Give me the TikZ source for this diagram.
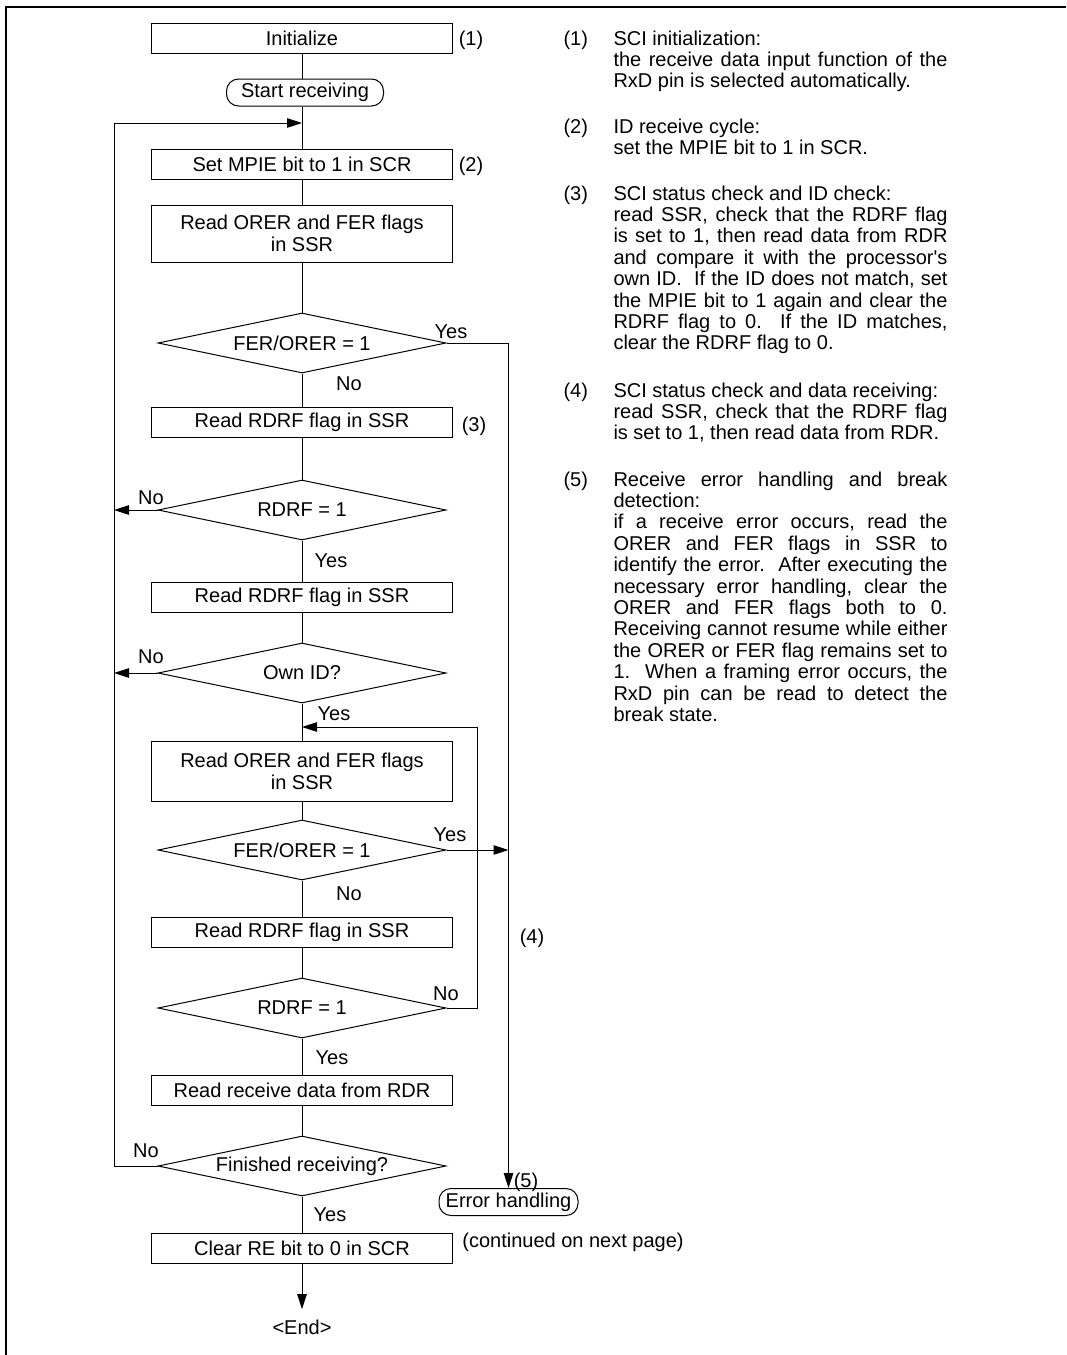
\documentclass[tikz,border=0pt]{standalone}
\usepackage{fontspec}
\setmainfont{Liberation Sans}
\usetikzlibrary{positioning,calc,arrows.meta,shapes.geometric}
\tolerance=10000

\begin{document}
\begin{tikzpicture}[x=1pt, y=-1pt, >={Triangle[length=15pt,width=9.5pt]}, line width=1pt,
    font=\fontsize{20}{22}\selectfont]
    \tikzstyle{proc box} = [draw, rectangle, minimum width=301pt, minimum height=30pt, inner sep=0pt, align=center]
    \tikzstyle{dec} = [draw, diamond, aspect=4.8, minimum width=288pt, minimum height=60pt, inner sep=0pt]
    \tikzstyle{term} = [draw, rounded corners=12pt, minimum height=27pt, inner sep=0pt]
    \tikzstyle{lbl} = [inner sep=0pt, text height=14pt, text depth=0pt]
    \tikzstyle{note} = [anchor=base west, inner sep=0pt, text width=334pt, align=justify,
        font=\fontsize{20}{21.4}\selectfont\frenchspacing]
    \useasboundingbox (0,0) rectangle (1066,1355);
    % frame
    \draw[line width=2.2pt] (5.7,1355) -- (5.7,6.7) -- (1066,6.7);

    % main column
    \node[proc box] (init) at (302,38.5) {Initialize};
    \node[lbl] (num1) at (471,38) {(1)};
    \node[term, minimum width=157pt] (start) at (305,92.5) {Start receiving};
    \coordinate (loop) at (302,123);
    \node[proc box] (setm) at (302,164.5) {Set MPIE bit to 1 in SCR};
    \node[lbl] (num2) at (471,164) {(2)};
    \node[proc box, minimum height=57pt] (rdoe1) at (302,233.5) {Read ORER and FER flags\\in SSR};
    \node[dec] (fe1) at (302,343) {FER/ORER = 1};
    \node[proc box] (rdrf1) at (302,422.5) {Read RDRF flag in SSR};
    \node[lbl] (num3) at (474,424) {(3)};
    \node[dec] (rf1) at (302,510) {RDRF = 1};
    \node[proc box] (rdrf2) at (302,597) {Read RDRF flag in SSR};
    \node[dec] (own) at (302,673) {Own ID?};
    \node[proc box, minimum height=60pt] (rdoe2) at (302,771) {Read ORER and FER flags\\in SSR};
    \node[dec] (fe2) at (302,850) {FER/ORER = 1};
    \node[proc box] (rdrf3) at (302,932.5) {Read RDRF flag in SSR};
    \node[lbl] (num4) at (532,936) {(4)};
    \node[dec] (rf2) at (302,1008) {RDRF = 1};
    \node[proc box] (rdd) at (302,1090) {Read receive data from RDR};
    \node[dec] (fin) at (302,1166) {Finished receiving?};
    \node[proc box] (clr) at (302,1248) {Clear RE bit to 0 in SCR};
    \node[inner sep=10pt] (endt) at (302,1327) {<End>};

    % error exit
    \node[term, minimum width=139pt] (err) at (508.5,1202) {Error handling};
    \node[lbl] (num5) at (526,1180) {(5)};
    \node[lbl] (cont) at (573,1240) {(continued on next page)};

    % branch labels
    \node[lbl] (fe1yes) at (451,331) {Yes};
    \node[lbl] (fe1no) at (349,383) {No};
    \node[lbl] (rf1no) at (151,497) {No};
    \node[lbl] (rf1yes) at (331,560) {Yes};
    \node[lbl] (ownno) at (151,656) {No};
    \node[lbl] (ownyes) at (334,713) {Yes};
    \node[lbl] (fe2yes) at (450,834) {Yes};
    \node[lbl] (fe2no) at (349,893) {No};
    \node[lbl] (rf2no) at (446,993) {No};
    \node[lbl] (rf2yes) at (332,1057) {Yes};
    \node[lbl] (finno) at (146,1150) {No};
    \node[lbl] (finyes) at (330,1214) {Yes};

    % straight flow
    \draw (init) -- (init |- start.north);
    \draw (start.south -| init) -- (setm);
    \draw (setm) -- (rdoe1);
    \draw (rdoe1) -- (fe1);
    \draw (fe1) -- (rdrf1);
    \draw (rdrf1) -- (rf1);
    \draw (rf1) -- (rdrf2);
    \draw (rdrf2) -- (own);
    \draw (own) -- (rdoe2);
    \draw (rdoe2) -- (fe2);
    \draw (fe2) -- (rdrf3);
    \draw (rdrf3) -- (rf2);
    \draw (rf2) -- (rdd);
    \draw (rdd) -- (fin);
    \draw (fin) -- (clr);
    \draw[->] (clr) -- (endt);

    % outer loop back
    \coordinate (ltop) at (114,123);
    \draw[->] (fin.west) -| (ltop) -- (loop);
    \draw[->] (rf1.west) -- (rf1.west -| ltop);
    \draw[->] (own.west) -- (own.west -| ltop);
    % inner loop back
    \coordinate (iloop) at (302,727);
    \coordinate (ibus) at (477,727);
    \draw[->] (rf2.east) -| (ibus) -- (iloop);
    % to error handling
    \draw[->] (fe1.east) -| (err.north);
    \draw[->] (fe2.east) -- (fe2.east -| err.north);

    % notes
    \node[lbl, anchor=base west] (d1n) at (563,45) {(1)};
    \node[note] (d1) at (613,45) {SCI initialization:\\
        the receive data input function of the\linebreak
        RxD pin is selected automatically.};
    \node[lbl, anchor=base west] (d2n) at (563,133) {(2)};
    \node[note] (d2) at (613,133) {ID receive cycle:\\
        set the MPIE bit to 1 in SCR.};
    \node[lbl, anchor=base west] (d3n) at (563,200) {(3)};
    \node[note] (d3) at (613,200) {SCI status check and ID check:\\
        read SSR, check that the RDRF flag\linebreak
        is set to 1, then read data from RDR\linebreak
        and compare it with the processor\textquotesingle s\linebreak
        own ID.\ \ If the ID does not match, set\linebreak
        the MPIE bit to 1 again and clear the\linebreak
        RDRF flag to 0.\ \ If the ID matches,\linebreak
        clear the RDRF flag to 0.};
    \node[lbl, anchor=base west] (d4n) at (563,397) {(4)};
    \node[note] (d4) at (613,397) {SCI status check and data receiving:\\
        read SSR, check that the RDRF flag\linebreak
        is set to 1, then read data from RDR.};
    \node[lbl, anchor=base west] (d5n) at (563,486) {(5)};
    \node[note] (d5) at (613,486) {Receive error handling and break\linebreak
        detection:\\
        if a receive error occurs, read the\linebreak
        ORER and FER flags in SSR to\linebreak
        identify the error.\ \ After executing the\linebreak
        necessary error handling, clear the\linebreak
        ORER and FER flags both to 0.\linebreak
        Receiving cannot resume while either\linebreak
        the ORER or FER flag remains set to\linebreak
        1.\ \ When a framing error occurs, the\linebreak
        RxD pin can be read to detect the\linebreak
        break state.};
\end{tikzpicture}
\end{document}
